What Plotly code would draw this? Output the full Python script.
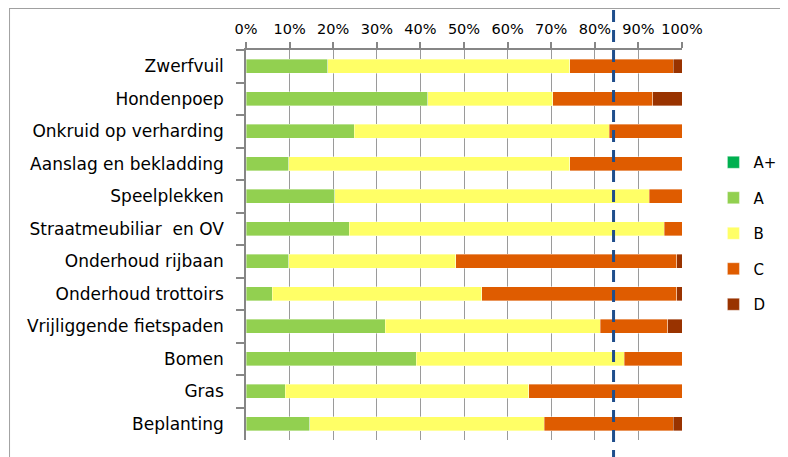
import plotly.graph_objects as go

categories = ["Zwerfvuil", "Hondenpoep", "Onkruid op verharding", "Aanslag en bekladding",
              "Speelplekken", "Straatmeubiliar  en OV", "Onderhoud rijbaan", "Onderhoud trottoirs",
              "Vrijliggende fietspaden", "Bomen", "Gras", "Beplanting"]
series_names = ["A+", "A", "B", "C", "D"]
a_plus = [0, 0, 0, 0, 0, 0, 0, 0, 0, 0, 0, 0]
a_vals = [0.188, 0.417, 0.248, 0.098, 0.203, 0.237, 0.098, 0.060, 0.319, 0.391, 0.090, 0.146]
b_vals = [0.555, 0.286, 0.585, 0.645, 0.722, 0.722, 0.383, 0.481, 0.493, 0.477, 0.559, 0.538]
c_vals = [0.237, 0.230, 0.167, 0.257, 0.075, 0.041, 0.507, 0.447, 0.155, 0.132, 0.351, 0.296]
d_vals = [0.020, 0.067, 0.000, 0.000, 0.000, 0.000, 0.012, 0.012, 0.033, 0.000, 0.000, 0.020]
norm_value = 0.843
x_ticks = [0, 0.1, 0.2, 0.3, 0.4, 0.5, 0.6, 0.7, 0.8, 0.9, 1.0]

colors = ["#00B050", "#92D050", "#FFFF66", "#DF5C00", "#993300"]
values = [a_plus, a_vals, b_vals, c_vals, d_vals]

# page body has an 8px margin; figure coordinates are screen minus 8
W, H = 780, 449
ml, mr, mt, mb = 237.5, 105.5, 42, 17
pw, ph = W - ml - mr, H - mt - mb

fig = go.Figure()
for name, vals, col in zip(series_names, values, colors):
    fig.add_trace(go.Bar(
        y=categories, x=vals, name=name, orientation="h",
        marker=dict(color=col, line=dict(width=0.6, color="rgba(255,255,255,0.6)")),
        legendgroup=name,
    ))

def px_x(p):
    return (p - ml) / pw

def px_y(p):
    return (H - mb - p) / ph

shapes = [
    dict(type="line", xref="paper", yref="paper", x0=norm_value, x1=norm_value,
         y0=px_y(H + 5), y1=px_y(-10), line=dict(color="#1F4E8C", width=3, dash="12px,8px")),
    dict(type="line", xref="paper", yref="paper", x0=px_x(0), x1=px_x(W + 5),
         y0=px_y(0.5), y1=px_y(0.5), line=dict(color="#A0A0A0", width=1)),
    dict(type="line", xref="paper", yref="paper", x0=px_x(0.5), x1=px_x(0.5),
         y0=px_y(0), y1=px_y(H + 5), line=dict(color="#A0A0A0", width=1)),
]

fig.update_layout(
    width=W, height=H,
    margin=dict(l=ml, r=mr, t=mt, b=mb, pad=0, autoexpand=False),
    barmode="stack", bargap=0.57,
    paper_bgcolor="white", plot_bgcolor="white",
    font=dict(family="DejaVu Sans", color="#000000"),
    shapes=shapes,
    legend=dict(x=px_x(706), y=px_y(138), xanchor="left", yanchor="top",
                traceorder="grouped", tracegroupgap=13, font=dict(size=15),
                bgcolor="rgba(0,0,0,0)"),
    xaxis=dict(side="top", range=[0, 1], tickvals=x_ticks, tickformat=".0%",
               showgrid=True, gridcolor="#9A9A9A", gridwidth=1,
               showline=True, linecolor="#868686", linewidth=1.5,
               ticks="outside", ticklen=6, tickcolor="#868686", tickwidth=1.5,
               tickfont=dict(size=14.5), ticklabelstandoff=2,
               zeroline=False, fixedrange=True, automargin=False),
    yaxis=dict(autorange="reversed", showline=True, linecolor="#868686", linewidth=1.5,
               ticks="outside", ticklen=8, tickcolor="#868686", tickwidth=1.5,
               tickson="boundaries", showgrid=False, tickfont=dict(size=17),
               ticklabelstandoff=17, fixedrange=True, automargin=False),
)

fig.write_html("out.html")
